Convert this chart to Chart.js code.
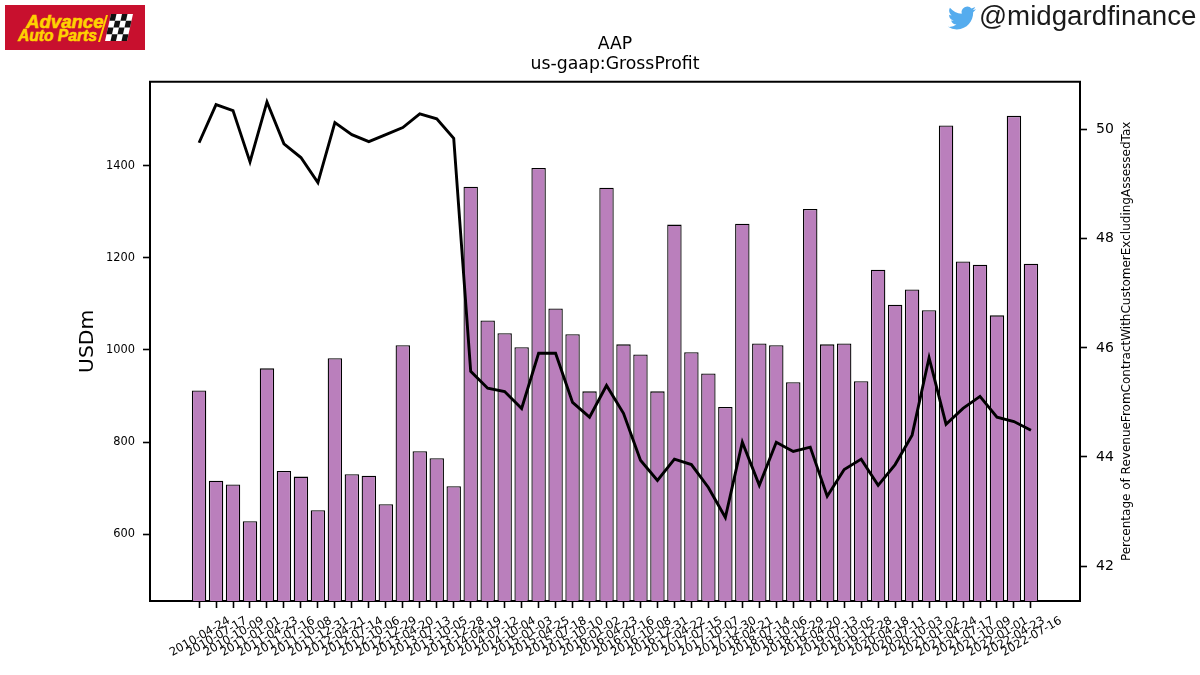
<!DOCTYPE html>
<html>
<head>
<meta charset="utf-8">
<title>AAP us-gaap:GrossProfit</title>
<script src="https://cdn.jsdelivr.net/npm/chart.js@4"></script>
<style>
  html, body { margin: 0; padding: 0; background: #fff; }
  #stage { position: relative; width: 1200px; height: 675px; overflow: hidden; }
  #stage canvas { position: absolute; left: 0; top: 0; }
  #logo { position: absolute; left: 5px; top: 5px; width: 140px; height: 45px; background: #c8102e; overflow: hidden; }
  #logo span { position: absolute; font: italic 700 18px/18px "Liberation Sans", sans-serif; color: #ffd200; white-space: nowrap; -webkit-text-stroke: 0.6px #ffd200; }
  #logo svg { position: absolute; left: 0; top: 0; }
  #handle { position: absolute; left: 979px; top: 0; font: 400 27.7px/32px "Liberation Sans", sans-serif; color: #1a1a1a; white-space: nowrap; }
  #bird { position: absolute; left: 948px; top: 4px; }
</style>
</head>
<body>
<div id="stage">
  <canvas id="chart" width="1200" height="675"></canvas>
  <div id="logo">
    <span style="left:21px;top:8px;font-size:18.6px">Advance</span>
    <span style="left:13px;top:22px;font-size:15.6px">Auto Parts</span>
    <svg width="140" height="45" viewBox="0 0 140 45">
      <path d="M101 10 L103 10 L95 37 L93 37 Z" fill="#ffd200"/>
      <g transform="translate(100,36) skewX(-12.5)">
        <rect x="0" y="-27" width="22" height="27" fill="#fff"/>
        <g fill="#111">
          <rect x="0" y="-27" width="5.5" height="6.75"/><rect x="11" y="-27" width="5.5" height="6.75"/>
          <rect x="5.5" y="-20.25" width="5.5" height="6.75"/><rect x="16.5" y="-20.25" width="5.5" height="6.75"/>
          <rect x="0" y="-13.5" width="5.5" height="6.75"/><rect x="11" y="-13.5" width="5.5" height="6.75"/>
          <rect x="5.5" y="-6.75" width="5.5" height="6.75"/><rect x="16.5" y="-6.75" width="5.5" height="6.75"/>
        </g>
      </g>
    </svg>
  </div>
  <svg id="bird" width="28" height="28" viewBox="0 0 24 24"><path fill="#55acee" d="M23.953 4.57a10 10 0 01-2.825.775 4.958 4.958 0 002.163-2.723c-.951.555-2.005.959-3.127 1.184a4.92 4.92 0 00-8.384 4.482C7.69 8.095 4.067 6.13 1.64 3.162a4.822 4.822 0 00-.666 2.475c0 1.71.87 3.213 2.188 4.096a4.904 4.904 0 01-2.228-.616v.06a4.923 4.923 0 003.946 4.827 4.996 4.996 0 01-2.212.085 4.936 4.936 0 004.604 3.417 9.867 9.867 0 01-6.102 2.105c-.39 0-.779-.023-1.17-.067a13.995 13.995 0 007.557 2.209c9.053 0 13.998-7.496 13.998-13.985 0-.21 0-.42-.015-.63A9.935 9.935 0 0024 4.59z"/></svg>
  <div id="handle">@midgardfinance</div>
</div>
<script>
// Quarter-end dates reported for AAP
const periods = [
  "2010-04-24","2010-07-17","2010-10-09","2011-01-01","2011-04-23","2011-07-16","2011-10-08","2011-12-31",
  "2012-04-21","2012-07-14","2012-10-06","2012-12-29","2013-04-20","2013-07-13","2013-10-05","2013-12-28",
  "2014-04-19","2014-07-12","2014-10-04","2015-01-03","2015-04-25","2015-07-18","2015-10-10","2016-01-02",
  "2016-04-23","2016-07-16","2016-10-08","2016-12-31","2017-04-22","2017-07-15","2017-10-07","2017-12-30",
  "2018-04-21","2018-07-14","2018-10-06","2018-12-29","2019-04-20","2019-07-13","2019-10-05","2019-12-28",
  "2020-04-18","2020-07-11","2020-10-03","2021-01-02","2021-04-24","2021-07-17","2021-10-09","2022-01-01",
  "2022-04-23","2022-07-16"
];
// Gross profit, USD millions
const grossProfit = [
  912,716,708,628,960,737,725,652,982,730,727,665,1010,780,765,704,
  1354,1064,1036,1006,1395,1090,1034,910,1352,1012,990,910,1272,995,949,876,
  1274,1014,1010,930,1306,1012,1014,932,1174,1098,1131,1086,1487,1192,1185,1075,
  1508,1187
];
// Gross profit as a percentage of revenue
const marginPct = [
  49.76,50.46,50.35,49.41,50.51,49.74,49.49,49.03,50.13,49.91,49.78,49.91,50.04,50.29,50.2,49.84,
  45.57,45.26,45.2,44.89,45.9,45.9,45.0,44.73,45.31,44.8,43.94,43.57,43.96,43.86,43.44,42.89,
  44.27,43.48,44.27,44.1,44.18,43.28,43.77,43.96,43.48,43.86,44.4,45.82,44.6,44.89,45.11,44.73,
  44.65,44.49
];
const usdTicks = [600, 800, 1000, 1200, 1400];
const pctTicks = [42, 44, 46, 48, 50];
const titleLines = ["AAP", "us-gaap:GrossProfit"];
const leftAxisTitle = "USDm";
const rightAxisTitle = "Percentage of RevenueFromContractWithCustomerExcludingAssessedTax";

const FONT = "'DejaVu Sans'";

// Top edge of the frame, plus the right-hand axis title reading bottom to top
const frameExtras = {
  id: "frameExtras",
  afterDraw(chart) {
    const { ctx, chartArea: a } = chart;
    ctx.save();
    ctx.strokeStyle = "#000";
    ctx.lineWidth = 2;
    ctx.beginPath();
    ctx.moveTo(a.left - 1, a.top);
    ctx.lineTo(a.right + 1, a.top);
    ctx.stroke();
    ctx.translate(a.right + 47, (a.top + a.bottom) / 2);
    ctx.rotate(-Math.PI / 2);
    ctx.fillStyle = "#000";
    ctx.font = "12px " + FONT;
    ctx.textAlign = "center";
    ctx.textBaseline = "middle";
    ctx.fillText(rightAxisTitle, 0, 0);
    ctx.restore();
  }
};

const tickMarks = { offset: false, drawOnChartArea: false, tickColor: "#000", tickWidth: 1.6, tickLength: 7 };
const spine = { color: "#000", width: 2 };

new Chart(document.getElementById("chart"), {
  type: "bar",
  plugins: [frameExtras],
  data: {
    datasets: [
      {
        type: "line",
        data: marginPct.map((y, x) => ({ x, y })),
        yAxisID: "yPct",
        borderColor: "#000",
        borderWidth: 2.9,
        pointRadius: 0,
        tension: 0,
        order: 0
      },
      {
        type: "bar",
        data: grossProfit.map((y, x) => ({ x, y })),
        yAxisID: "yUsd",
        backgroundColor: "#ba7fbc",
        borderColor: "#000",
        borderWidth: 1.3,
        barPercentage: 0.85,
        categoryPercentage: 1,
        order: 1
      }
    ]
  },
  options: {
    responsive: false,
    animation: false,
    layout: { padding: { top: 35, left: 0, right: 0, bottom: 0 } },
    plugins: {
      legend: { display: false },
      tooltip: { enabled: false },
      title: {
        display: true,
        text: titleLines,
        fullSize: false,
        color: "#000",
        font: { family: FONT, size: 17.3, weight: "normal", lineHeight: 1.12 },
        padding: { top: 0, bottom: 8 }
      }
    },
    scales: {
      x: {
        type: "linear",
        offset: false,
        bounds: "data",
        min: -2.89,
        max: 51.89,
        afterBuildTicks(scale) { scale.ticks = periods.map((_, value) => ({ value })); },
        afterFit(scale) { scale.height = 74; },
        ticks: {
          autoSkip: false,
          minRotation: 30,
          maxRotation: 30,
          labelOffset: 30,
          padding: 6,
          color: "#000",
          font: { family: FONT, size: 11.6 },
          callback: v => periods[v]
        },
        grid: tickMarks,
        border: spine
      },
      yUsd: {
        position: "left",
        bounds: "data",
        min: 455,
        max: 1582,
        afterBuildTicks(scale) { scale.ticks = usdTicks.map(value => ({ value })); },
        afterFit(scale) { scale.width = 150; },
        ticks: {
          padding: 8,
          color: "#000",
          font: { family: FONT, size: 11.4 },
          callback: v => String(v)
        },
        title: {
          display: true,
          text: leftAxisTitle,
          color: "#000",
          font: { family: FONT, size: 20.3 },
          padding: { top: 76, bottom: 0 }
        },
        grid: tickMarks,
        border: spine
      },
      yPct: {
        position: "right",
        bounds: "data",
        min: 41.359,
        max: 50.879,
        afterBuildTicks(scale) { scale.ticks = pctTicks.map(value => ({ value })); },
        afterFit(scale) { scale.width = 120; },
        ticks: {
          padding: 9,
          color: "#000",
          font: { family: FONT, size: 14 },
          callback: v => String(v)
        },
        grid: tickMarks,
        border: spine
      }
    }
  }
});
</script>
</body>
</html>
